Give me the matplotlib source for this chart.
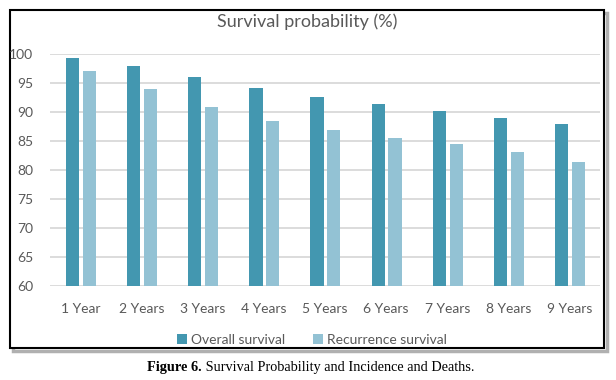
import numpy as np
import matplotlib.pyplot as plt
from matplotlib.patches import Rectangle

years = ["1 Year", "2 Years", "3 Years", "4 Years", "5 Years",
         "6 Years", "7 Years", "8 Years", "9 Years"]
overall = [99.3, 97.9, 96.0, 94.1, 92.6, 91.4, 90.2, 89.0, 87.9]
recurrence = [97.1, 94.0, 90.9, 88.4, 86.9, 85.5, 84.5, 83.1, 81.4]

c_overall = "#4397b0"
c_rec = "#93c2d4"
txt = "#595959"

plt.rcParams['font.family'] = ['Lato', 'DejaVu Sans']

fig = plt.figure(figsize=(6.16, 3.8), dpi=100)

# chart frame with shadow (drawn behind the axes)
fig.patches.append(Rectangle((13/616, 1-351/380), 594/616, 338/380, transform=fig.transFigure,
                             facecolor="none", edgecolor="#b0b0b0", linewidth=2.5, zorder=-2))
fig.patches.append(Rectangle((10/616, 1-348/380), 594/616, 338/380, transform=fig.transFigure,
                             facecolor="white", edgecolor="black", linewidth=1.5, zorder=-1))

ax = fig.add_axes([50/616, 1-286/380, 550/616, 232/380])
ax.patch.set_alpha(0)

x = np.arange(len(years))
w = 0.215
ax.bar(x - 0.13, overall, w, color=c_overall, label="Overall survival", zorder=3)
ax.bar(x + 0.145, recurrence, w, color=c_rec, label="Recurrence survival", zorder=3)

ax.set_ylim(60, 100)
ax.set_xlim(-0.5, len(years) - 0.5)
ax.set_yticks(np.arange(60, 101, 5))
ax.set_xticks(x)
ax.set_xticklabels(years)
ax.tick_params(length=0, labelsize=10, labelcolor=txt)
ax.tick_params(axis="y", pad=12)
ax.tick_params(axis="x", pad=12)
ax.grid(axis="y", color="#d9d9d9", linewidth=1.3, zorder=0)
for s in ax.spines.values():
    s.set_visible(False)

fig.text(307/616, 1-22/380, "Survival probability (%)", ha="center", va="center",
         fontsize=13, color=txt)

fig.legend(loc="center", bbox_to_anchor=(312/616, 1-340/380), ncol=2, frameon=False,
           fontsize=10, labelcolor=txt, handlelength=0.7, handleheight=0.7,
           handletextpad=0.3, columnspacing=2.0)

cap1 = fig.text(147/616, 1-368/380, "Figure 6.", ha="left", va="center",
                fontsize=10.3, fontweight="bold", family="Liberation Serif")
ax.annotate(" Survival Probability and Incidence and Deaths.", xy=(1, 0.5),
            xycoords=cap1, ha="left", va="center", fontsize=10.3,
            family="Liberation Serif", annotation_clip=False)

fig.savefig("out.png", dpi=100)
